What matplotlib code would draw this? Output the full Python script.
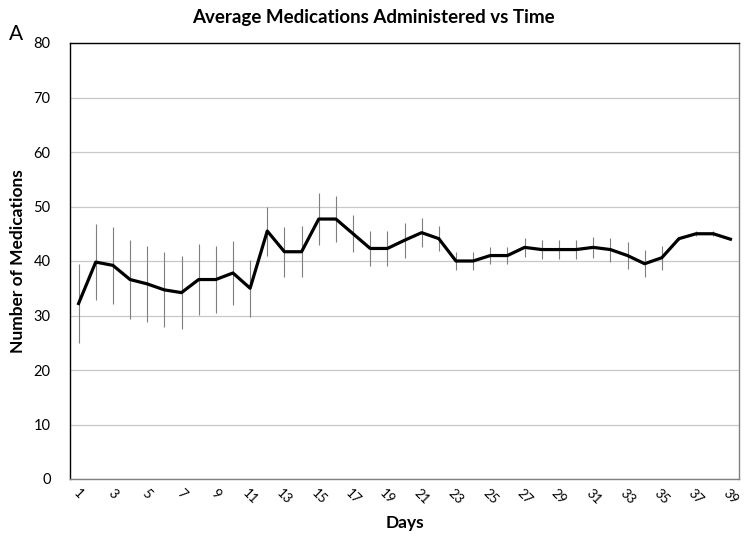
import matplotlib
matplotlib.use("Agg")
import matplotlib.pyplot as plt
import numpy as np

days = list(range(1, 40))
mean_meds = [32.2, 39.8, 39.2, 36.6, 35.8, 34.7, 34.2, 36.6, 36.6, 37.8,
             35.0, 45.5, 41.7, 41.7, 47.7, 47.7, 45.0, 42.3, 42.3, 43.8,
             45.2, 44.1, 40.0, 40.0, 41.0, 41.0, 42.5, 42.1, 42.1, 42.1,
             42.5, 42.1, 41.0, 39.5, 40.6, 44.1, 45.0, 45.0, 44.0]
err_meds = [7.3, 7.0, 7.0, 7.2, 7.0, 6.9, 6.7, 6.5, 6.2, 5.8,
            5.2, 4.5, 4.6, 4.7, 4.8, 4.3, 3.4, 3.2, 3.2, 3.2,
            2.7, 2.3, 1.7, 1.7, 1.6, 1.6, 1.8, 1.8, 1.8, 1.8,
            1.9, 2.2, 2.4, 2.5, 2.2, 0.3, 0.5, 0.5, 0.0]
y_ticks = [0, 10, 20, 30, 40, 50, 60, 70, 80]

plt.rcParams['font.family'] = ['Lato', 'DejaVu Sans']

fig = plt.figure(figsize=(7.51, 5.42), dpi=100)
ax = fig.add_axes([70/751, 1 - 479/542, (739-70)/751, (479-43)/542])

ax.errorbar(days, mean_meds, yerr=err_meds, fmt='none', ecolor='#7f7f7f',
            elinewidth=0.8, capsize=0, zorder=2)
ax.plot(days, mean_meds, color='black', linewidth=2.3, zorder=3)

ax.set_xlim(0.5, 39.5)
ax.set_ylim(0, 80)
ax.set_yticks(y_ticks)
ax.set_yticklabels([str(t) for t in y_ticks], fontsize=10.5)
ax.yaxis.grid(True, color='#c8c8c8', linewidth=0.9)
ax.set_axisbelow(True)

odd_days = [d for d in days if d % 2 == 1]
ax.set_xticks(odd_days)
ax.set_xticklabels([str(d) for d in odd_days], rotation=-45, fontsize=9.5,
                   ha='center', va='top')
ax.tick_params(axis='both', length=0)
ax.tick_params(axis='y', pad=14)
ax.tick_params(axis='x', pad=6)

for side in ['left', 'top']:
    ax.spines[side].set_color('black')
    ax.spines[side].set_linewidth(1.0)
for side in ['right', 'bottom']:
    ax.spines[side].set_color('#808080')
    ax.spines[side].set_linewidth(1.0)

ax.set_xlabel('Days', fontsize=12.5, fontweight='bold', labelpad=6)
ax.set_ylabel('Number of Medications', fontsize=12.5, fontweight='bold', labelpad=5)

fig.text(0.497, 1 - 17/542, 'Average Medications Administered vs Time',
         ha='center', va='center', fontsize=13.5, fontweight='bold')
fig.text(9/751, 1 - 34/542, 'A', ha='left', va='center', fontsize=15)

fig.savefig('out.png', dpi=100)
